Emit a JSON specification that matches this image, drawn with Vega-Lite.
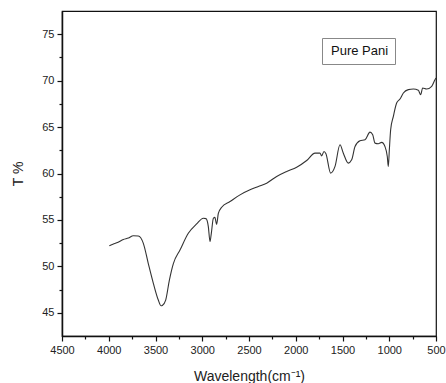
{
  "$schema": "https://vega.github.io/schema/vega-lite/v6.json",
  "autosize": {"type": "none"},
  "padding": {"left": 62, "top": 11, "right": 10, "bottom": 47},
  "width": 374,
  "height": 325,
  "background": "white",
  "config": {
    "view": {"stroke": "#111", "strokeWidth": 1.2},
    "font": "Liberation Sans"
  },
  "data": {
    "values": [
      {"w": 3994, "t": 52.23}, {"w": 3950, "t": 52.4}, {"w": 3900, "t": 52.6}, {"w": 3844, "t": 52.9},
      {"w": 3790, "t": 53.05}, {"w": 3737, "t": 53.3}, {"w": 3684, "t": 53.27}, {"w": 3630, "t": 52.48},
      {"w": 3577, "t": 50.3}, {"w": 3523, "t": 48.17}, {"w": 3470, "t": 46.37}, {"w": 3440, "t": 45.75},
      {"w": 3427, "t": 45.79}, {"w": 3391, "t": 46.37}, {"w": 3352, "t": 48.5}, {"w": 3309, "t": 50.3},
      {"w": 3238, "t": 51.76}, {"w": 3149, "t": 53.56}, {"w": 3060, "t": 54.57}, {"w": 2988, "t": 55.18},
      {"w": 2960, "t": 55.14}, {"w": 2935, "t": 54.28}, {"w": 2917, "t": 52.66}, {"w": 2903, "t": 53.56},
      {"w": 2881, "t": 55.18}, {"w": 2865, "t": 55.28}, {"w": 2846, "t": 54.53}, {"w": 2828, "t": 55.7},
      {"w": 2792, "t": 56.37}, {"w": 2703, "t": 56.98}, {"w": 2596, "t": 57.7}, {"w": 2489, "t": 58.24},
      {"w": 2400, "t": 58.6}, {"w": 2311, "t": 58.96}, {"w": 2204, "t": 59.68}, {"w": 2097, "t": 60.22},
      {"w": 1990, "t": 60.68}, {"w": 1883, "t": 61.4}, {"w": 1794, "t": 62.19}, {"w": 1741, "t": 62.19},
      {"w": 1723, "t": 61.9}, {"w": 1698, "t": 62.37}, {"w": 1677, "t": 62.12}, {"w": 1627, "t": 60.04},
      {"w": 1580, "t": 60.76}, {"w": 1527, "t": 63.09}, {"w": 1491, "t": 62.19}, {"w": 1438, "t": 61.12},
      {"w": 1402, "t": 61.47}, {"w": 1366, "t": 62.91}, {"w": 1313, "t": 63.52}, {"w": 1259, "t": 63.63},
      {"w": 1206, "t": 64.46}, {"w": 1177, "t": 64.17}, {"w": 1152, "t": 63.27}, {"w": 1117, "t": 63.2},
      {"w": 1081, "t": 63.35}, {"w": 1046, "t": 62.91}, {"w": 1021, "t": 61.83}, {"w": 1010, "t": 60.76},
      {"w": 999, "t": 62.55}, {"w": 985, "t": 64.71}, {"w": 956, "t": 66.15}, {"w": 921, "t": 67.59},
      {"w": 885, "t": 68.02}, {"w": 849, "t": 68.67}, {"w": 796, "t": 69.03}, {"w": 742, "t": 69.1},
      {"w": 689, "t": 68.96}, {"w": 664, "t": 68.49}, {"w": 643, "t": 69.21}, {"w": 600, "t": 69.1},
      {"w": 546, "t": 69.39}, {"w": 511, "t": 70.1}, {"w": 500, "t": 70.29}
    ]
  },
  "transform": [{"calculate": "'Pure Pani'", "as": "series"}],
  "mark": {"type": "line", "strokeWidth": 1.1, "interpolate": "monotone"},
  "encoding": {
    "x": {
      "field": "w", "type": "quantitative",
      "scale": {"domain": [500, 4500], "reverse": true, "nice": false, "zero": false},
      "axis": {
        "title": "Wavelength(cm⁻¹)",
        "values": [4500, 4250, 4000, 3750, 3500, 3250, 3000, 2750, 2500, 2250, 2000, 1750, 1500, 1250, 1000, 750, 500],
        "labelExpr": "datum.value % 500 === 0 ? datum.label : ''",
        "format": "d",
        "grid": false,
        "domainColor": "#111", "domainWidth": 1.5,
        "tickColor": "#111", "tickWidth": 1.2,
        "tickSize": {"expr": "datum.value % 500 === 0 ? 5 : 3"},
        "labelFont": "Liberation Sans", "labelFontSize": 11, "labelColor": "#222",
        "labelPadding": 3, "labelFlush": false, "labelOverlap": false,
        "titleFont": "Liberation Sans", "titleFontSize": 14, "titleFontWeight": "normal", "titleColor": "#222",
        "titlePadding": 14
      }
    },
    "y": {
      "field": "t", "type": "quantitative",
      "scale": {"domain": [42.5, 77.5], "nice": false, "zero": false},
      "axis": {
        "title": "T %",
        "values": [45, 47.5, 50, 52.5, 55, 57.5, 60, 62.5, 65, 67.5, 70, 72.5, 75],
        "labelExpr": "datum.value % 5 === 0 ? datum.label : ''",
        "grid": false,
        "domainColor": "#111", "domainWidth": 1.5,
        "tickColor": "#111", "tickWidth": 1.2,
        "tickSize": {"expr": "datum.value % 5 === 0 ? 5 : 3"},
        "labelFont": "Liberation Sans", "labelFontSize": 11, "labelColor": "#222",
        "labelPadding": 3, "labelOverlap": false,
        "titleFont": "Liberation Sans", "titleFontSize": 14, "titleFontWeight": "normal", "titleColor": "#222",
        "titlePadding": 16
      }
    },
    "color": {
      "field": "series", "type": "nominal",
      "scale": {"domain": ["Pure Pani"], "range": ["#333333"]},
      "legend": {
        "title": null,
        "orient": "none",
        "legendX": 260,
        "legendY": 27,
        "symbolSize": 0,
        "symbolStrokeWidth": 0,
        "symbolOpacity": 0,
        "labelOffset": -10,
        "labelFont": "Liberation Sans",
        "labelFontSize": 13,
        "labelColor": "#111",
        "strokeColor": "#888",
        "padding": 6,
        "fillColor": "white"
      }
    }
  }
}
